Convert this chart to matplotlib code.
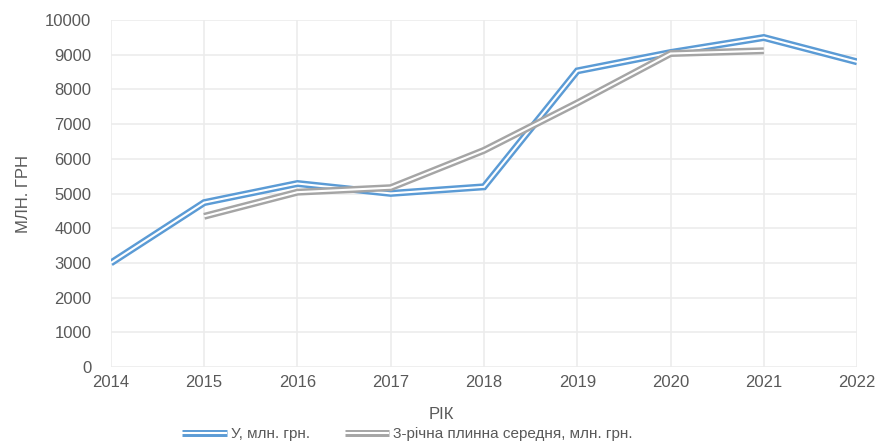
import matplotlib
matplotlib.use("Agg")
import matplotlib.pyplot as plt
import matplotlib.patheffects as pe
import numpy as np

years = [2014, 2015, 2016, 2017, 2018, 2019, 2020, 2021, 2022]
y_values = [3000, 4740, 5290, 5005, 5195, 8535, 9063, 9496, 8795]
ma_values = [np.nan, 4345, 5040, 5170, 6245, 7610, 9035, 9115, np.nan]

blue = "#5b9bd5"
grey = "#a5a5a5"
text_col = "#595959"

plt.rcParams["font.family"] = ["Liberation Sans", "DejaVu Sans"]

fig = plt.figure(figsize=(8.8, 4.45), dpi=100)
ax = fig.add_axes([0.126, 0.175, 0.848, 0.780])


def double(color):
    # excel-style double line: thick stroke with a white core
    return [pe.Stroke(linewidth=5.0, foreground=color, capstyle="butt"),
            pe.Stroke(linewidth=1.5, foreground="white", capstyle="butt")]


ax.plot(years, y_values, color=blue, lw=5.0, label="У, млн. грн.",
        path_effects=double(blue), solid_joinstyle="miter", solid_capstyle="butt")
ax.plot(years, ma_values, color=grey, lw=5.0,
        label="3-річна плинна середня, млн. грн.",
        path_effects=double(grey), solid_joinstyle="miter", solid_capstyle="butt")

ax.set_xlim(2014, 2022)
ax.set_ylim(0, 10000)
ax.set_xticks(years)
ax.set_yticks(range(0, 10001, 1000))
ax.grid(True, color="#ececec", lw=1.2)
ax.set_axisbelow(True)
for s in ax.spines.values():
    s.set_visible(False)
ax.tick_params(length=0, labelsize=12, colors=text_col, pad=6)
ax.tick_params(axis="y", pad=14)

fig.text(0.502, 0.068, "РІК", ha="center", va="center", fontsize=12, color=text_col)
ax.set_ylabel("МЛН. ГРН", fontsize=12, color=text_col, labelpad=10)

ax.legend(loc="center", bbox_to_anchor=(0.463, 0.025), bbox_transform=fig.transFigure,
          ncol=2, frameon=False, fontsize=11, labelcolor=text_col,
          handlelength=2.9, columnspacing=2.3, handletextpad=0.25)

fig.savefig("out.png", dpi=100)
